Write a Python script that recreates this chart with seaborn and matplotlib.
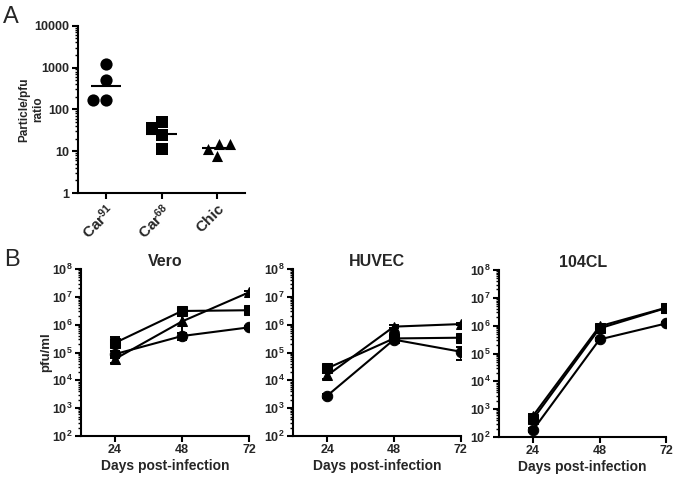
import numpy as np
import pandas as pd
import matplotlib
matplotlib.use('Agg')
import matplotlib.pyplot as plt
import seaborn as sns
from matplotlib.ticker import LogLocator, NullFormatter

# panel A: particle/pfu ratio per virus
groups = ['Car91', 'Car68', 'Chic']
group_labels = [r'Car$^{\mathrm{91}}$', r'Car$^{\mathrm{68}}$', 'Chic']
car91_ratio = [1200, 500, 170, 170]
car68_ratio = [49, 35, 24, 11]
chic_ratio = [14.6, 7.7, 11.3, 14.8]

# panel B: growth curves (pfu/ml), order Car91 (circle), Car68 (square), Chic (triangle)
days = [24, 48, 72]
vero_car91 = [8.7e4, 3.9e5, 8.0e5]
vero_car68 = [2.2e5, 3.1e6, 3.3e6]
vero_chic = [5.8e4, 1.3e6, 1.45e7]
vero_car91_err = [2.5e4, 1.0e5, 1.0e5]
vero_car68_err = [1.5e5, 4.0e5, 8.0e5]
vero_chic_err = [1.5e4, 8.0e5, 2.0e6]

huvec_car91 = [2.8e3, 2.9e5, 1.07e5]
huvec_car68 = [2.7e4, 3.2e5, 3.4e5]
huvec_chic = [1.5e4, 8.5e5, 1.05e6]
huvec_car91_err = [5.0e2, 3.0e4, 5.5e4]
huvec_car68_err = [6.0e3, 5.0e4, 4.0e4]
huvec_chic_err = [4.0e3, 1.0e5, 1.0e5]

cl104_car91 = [1.8e2, 3.2e5, 1.2e6]
cl104_car68 = [4.4e2, 8.0e5, 4.3e6]
cl104_chic = [5.8e2, 9.5e5, 4.4e6]
cl104_car91_err = [30, 4.0e4, 1.5e5]
cl104_car68_err = [80, 1.0e5, 5.0e5]
cl104_chic_err = [80, 1.0e5, 5.0e5]

sns.set_style('ticks')
plt.rcParams['font.family'] = ['Liberation Sans', 'DejaVu Sans']
plt.rcParams['font.weight'] = 'bold'
plt.rcParams['mathtext.fontset'] = 'custom'
plt.rcParams['mathtext.rm'] = 'Liberation Sans'
plt.rcParams['mathtext.bf'] = 'Liberation Sans:bold'
plt.rcParams['mathtext.it'] = 'Liberation Sans:italic'

W, H = 675, 479
fig = plt.figure(figsize=(W / 100, H / 100), dpi=100)
fig.patch.set_facecolor('white')


def style_axes(ax):
    for s in ['top', 'right']:
        ax.spines[s].set_visible(False)
    for s in ['left', 'bottom']:
        ax.spines[s].set_linewidth(1.5)
        ax.spines[s].set_color('black')
    ax.tick_params(axis='both', which='major', length=4, width=1.5, color='black',
                   labelsize=9, pad=2)
    ax.tick_params(axis='y', which='minor', length=2, width=1.0, color='black')
    ax.yaxis.set_minor_locator(LogLocator(base=10, subs=np.arange(2, 10), numticks=20))
    ax.yaxis.set_minor_formatter(NullFormatter())
    ax.set_facecolor('white')
    ax.grid(False)


# ---- panel A
axA = fig.add_axes([78 / W, 1 - 193 / H, 167 / W, 167.3 / H])
for g, vals, m, sz in [('Car91', car91_ratio, 'o', 8.8),
                        ('Car68', car68_ratio, 's', 8.3),
                        ('Chic', chic_ratio, '^', 8.0)]:
    sns.swarmplot(x=[g] * len(vals), y=vals, order=groups, marker=m, size=sz,
                  color='black', log_scale=True, ax=axA)
for i, vals in enumerate([car91_ratio, car68_ratio, chic_ratio]):
    gmean = np.exp(np.mean(np.log(vals)))
    axA.hlines(gmean, i - 0.27, i + 0.27, color='black', linewidth=1.5)
axA.set_yscale('log')
axA.set_ylim(1, 10000)
axA.set_xlim(-0.5, 2.5)
axA.set_yticks([1, 10, 100, 1000, 10000])
axA.set_yticklabels(['1', '10', '100', '1000', '10000'])
style_axes(axA)
axA.set_xticks(range(len(groups)))
axA.set_xticklabels(group_labels, rotation=45, ha='right', rotation_mode='anchor',
                    fontsize=11)
axA.set_xlabel('')
axA.set_ylabel('Particle/pfu\nratio', fontsize=8.5, fontweight='bold',
               linespacing=1.15)
axA.yaxis.set_label_coords(-0.205, 0.5)

# ---- panel B
virus_names = ['Car91', 'Car68', 'Chic']
panels = [
    ('Vero', [vero_car91, vero_car68, vero_chic],
     [vero_car91_err, vero_car68_err, vero_chic_err], 80.7, 249, 436),
    ('HUVEC', [huvec_car91, huvec_car68, huvec_chic],
     [huvec_car91_err, huvec_car68_err, huvec_chic_err], 293.3, 460.6, 436),
    ('104CL', [cl104_car91, cl104_car68, cl104_chic],
     [cl104_car91_err, cl104_car68_err, cl104_chic_err], 499.3, 666, 437),
]
marker_map = {'Car91': 'o', 'Car68': 's', 'Chic': '^'}

for k, (title, series, errs, x0, x1, yb) in enumerate(panels):
    ax = fig.add_axes([x0 / W, 1 - yb / H, (x1 - x0) / W, 167 / H])
    ax.set_yscale('log')
    rows = []
    for name, vals in zip(virus_names, series):
        for d, v in zip(days, vals):
            rows.append({'day': d, 'pfu': v, 'virus': name})
    df = pd.DataFrame(rows)
    for name, vals, err in zip(virus_names, series, errs):
        ax.errorbar(days, vals, yerr=err, fmt='none', ecolor='black', elinewidth=1.4,
                    capsize=3.5, capthick=1.4, zorder=2)
    sns.lineplot(data=df, x='day', y='pfu', style='virus', markers=marker_map,
                 dashes=False, color='black', linewidth=1.5, markersize=7.5,
                 markeredgecolor='black', legend=False, ax=ax, zorder=3)
    ax.set_ylim(1e2, 1e8)
    ax.set_xlim(11.8, 72)
    ax.set_xticks(days)
    ax.set_yticks([10.0 ** p for p in range(2, 9)])
    style_axes(ax)
    ax.set_title(title, fontsize=11.5, fontweight='bold', pad=1)
    ax.set_xlabel('Days post-infection', fontsize=10, fontweight='bold', labelpad=2)
    if k == 0:
        ax.set_ylabel('pfu/ml', fontsize=9.5, fontweight='bold')
        ax.yaxis.set_label_coords(-0.17, 0.5)
    else:
        ax.set_ylabel('')

fig.text(3 / W, 1 - 6 / H, 'A', fontsize=17, fontweight='normal', va='top', ha='left')
fig.text(4 / W, 1 - 249 / H, 'B', fontsize=17, fontweight='normal', va='top', ha='left')

fig.savefig('out.png', dpi=100, facecolor='white')
